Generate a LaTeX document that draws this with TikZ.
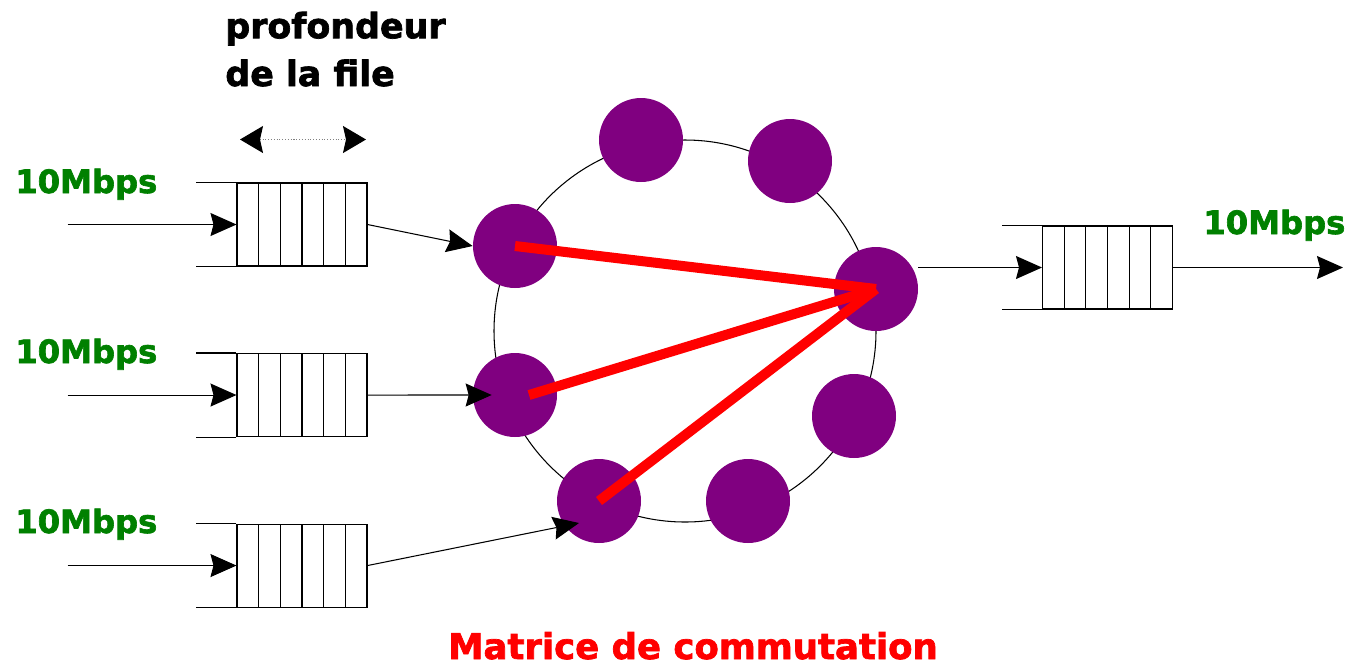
\documentclass[tikz,border=0pt]{standalone}
\usepackage{fontspec}
\setsansfont[BoldFeatures={FakeBold=2}]{DejaVu Sans}
\usetikzlibrary{arrows.meta,positioning}
\definecolor{rategreen}{RGB}{0,128,0}
\definecolor{portpurple}{RGB}{128,0,128}

\begin{document}
\begin{tikzpicture}[
    x=0.02cm, y=-0.02cm, % 1 unit = 1 pixel, y downwards
    queue/.style={draw,line width=0.6pt,minimum width=2.6cm,minimum height=1.66cm,inner sep=0pt,
        path picture={\foreach \k in {1,...,5}
            \draw[line width=0.6pt] ([xshift=\k*0.4333cm]path picture bounding box.south west)
                -- ([xshift=\k*0.4333cm]path picture bounding box.north west);}},
    qline/.style={line width=0.6pt},
    port/.style={circle,fill=portpurple,minimum size=1.68cm,inner sep=0pt},
    rate/.style={font=\sffamily\bfseries\fontsize{18.3}{22}\selectfont,text=rategreen,inner sep=0pt,anchor=base west},
    arrow/.style={-{Stealth[length=0.52cm,width=0.46cm,inset=0.06cm]},line width=0.6pt},
    route/.style={red,line width=0.2cm}
]
\useasboundingbox (0,0) rectangle (1348,664);

% Switching ring
\draw[line width=0.6pt] (685,331) circle[radius=191];

% Ports on the ring
\foreach \i/\x/\y in {1/515/246, 2/641/140, 3/790/161, 4/876/289,
                      5/854/416, 6/748/501, 7/599/501, 8/515/395}
    \node[port] (p\i) at (\x,\y) {};

% Queues
\node[queue] (q1) at (302,224.5) {};
\node[queue] (q2) [below=1.73cm of q1] {};
\node[queue] (q3) [below=1.73cm of q2] {};
\node[queue] (qo) at (1107.5,267.5) {};
\foreach \q in {q1,q2,q3,qo} {
    \draw[qline] (\q.north west) -- ++(-40,0);
    \draw[qline] (\q.south west) -- ++(-40,0);
}

% Paths through the matrix
\draw[route] (p1.center) -- (p4.center);
\draw[route] ([xshift=0.28cm]p8.center) -- (p4.center);
\draw[route] (p7.center) -- (p4.center);

% Input links
\foreach \i in {1,2,3} {
    \coordinate (in\i) at ([xshift=-3.38cm]q\i.west);
    \draw[arrow] (in\i) -- (q\i.west);
}
\draw[arrow] (q1.east) -- (p1.west);
\draw[arrow] (q2.east) -- ([xshift=0.38cm]p8.west);
\draw[arrow] (q3.east) -- ([xshift=-0.4cm,yshift=-0.44cm]p7.center);

% Output link
\draw[arrow] (p4.east |- qo.west) -- (qo.west);
\coordinate (out) at ([xshift=3.4cm]qo.east);
\draw[arrow] (qo.east) -- (out);

% Rates
\node[rate] (r1) at (15,193) {10Mbps};
\node[rate] (r2) at (15,363) {10Mbps};
\node[rate] (r3) at (15,533) {10Mbps};
\node[rate] (ro) at (1203,234) {10Mbps};

% Queue depth
\node[font=\sffamily\bfseries\fontsize{19.8}{27.2}\selectfont,align=left,anchor=base west,inner sep=0pt] (depth) at (225,86) {profondeur\\de la file};
\coordinate (dl) at (240,139.5);
\coordinate (dr) at (366,139.5);
\draw[{Stealth[length=0.46cm,width=0.54cm,inset=0.06cm,color=black]}-{Stealth[length=0.46cm,width=0.54cm,inset=0.06cm,color=black]},
      densely dotted,gray,line width=0.6pt] (dl) -- (dr);

% Title
\node[font=\sffamily\bfseries\fontsize{20.2}{24}\selectfont,text=red,anchor=base,inner sep=0pt] (title) at (693,659) {Matrice de commutation};

\end{tikzpicture}
\end{document}
